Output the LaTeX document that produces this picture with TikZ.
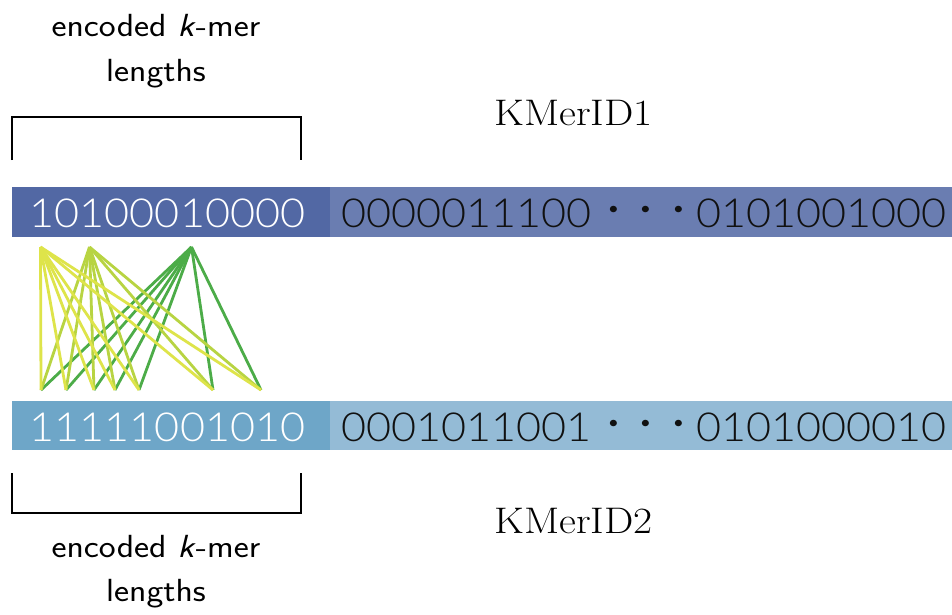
\documentclass[tikz,border=0pt]{standalone}
\usepackage{fontspec}
\newfontfamily\digitfont[FakeStretch=1.08]{Lato Light}
\definecolor{barTL}{RGB}{82,104,164}
\definecolor{barTR}{RGB}{106,125,177}
\definecolor{barBL}{RGB}{110,166,200}
\definecolor{barBR}{RGB}{148,187,214}
\definecolor{lnA}{RGB}{222,228,74}
\definecolor{lnB}{RGB}{184,212,66}
\definecolor{lnC}{RGB}{76,172,72}
\definecolor{txtdark}{RGB}{17,17,17}
\newcommand{\onedot}{\makebox[32.5pt]{\raisebox{-0.1ex}{\scalebox{1.6}{·}}}}
\newcommand{\mydots}{\hspace{5.5pt}\onedot\onedot\onedot\hspace{1.5pt}}
\begin{document}
\begin{tikzpicture}[x=1pt,y=-1pt,
  lbl/.style={inner sep=0pt, font=\sffamily\fontsize{32}{34}\selectfont},
  idlbl/.style={inner sep=0pt, anchor=base west, font=\rmfamily\fontsize{37}{40}\selectfont},
  dig/.style={inner sep=0pt, font=\digitfont\fontsize{40}{44}\selectfont},
  brk/.style={line width=2pt, black},
  link/.style={line width=2.8pt}]
\useasboundingbox (0,0) rectangle (952,615);
\fill[white] (0,0) rectangle (952,615);
% brackets
\draw[brk] (12,160) -- (12,117) -- (301,117) -- (301,160);
\draw[brk] (12,473) -- (12,513) -- (301,513) -- (301,473);
% labels
\node[lbl, anchor=base] (enc1) at (156,37) {\scalebox{1.12}[1]{encoded \textsl{k}-mer}};
\node[lbl, anchor=base] (len1) at (156,82) {\scalebox{1.12}[1]{lengths}};
\node[lbl, anchor=base] (enc2) at (156,557) {\scalebox{1.12}[1]{encoded \textsl{k}-mer}};
\node[lbl, anchor=base] (len2) at (156,601) {\scalebox{1.12}[1]{lengths}};
\node[idlbl] (id1) at (494,125) {\scalebox{1.12}[1]{KMerID1}};
\node[idlbl] (id2) at (494,533) {\scalebox{1.12}[1]{KMerID2}};
% bars
\fill[barTL] (12,187) rectangle (330,237);
\fill[barTR] (330,187) rectangle (952,237);
\fill[barBL] (12,401) rectangle (330,450);
\fill[barBR] (330,401) rectangle (952,450);
\node[dig, text=white, anchor=base] (k1) at (167.5,227) {10100010000};
\node[dig, text=txtdark, anchor=base west] (r1) at (341,227) {0000011100\mydots0101001000};
\node[dig, text=white, anchor=base] (k2) at (167.5,441) {11111001010};
\node[dig, text=txtdark, anchor=base west] (r2) at (341,441) {0001011001\mydots0101000010};
% link endpoints
\coordinate (t1) at (40.5,247);
\coordinate (t2) at (89.5,247);
\coordinate (t3) at (191.5,247);
\coordinate (b1) at (41,390);
\coordinate (b2) at (66,390);
\coordinate (b3) at (94,390);
\coordinate (b4) at (115,390);
\coordinate (b5) at (139,390);
\coordinate (b6) at (213,390);
\coordinate (b7) at (261,390);
\foreach \b in {b1,b2,b3,b4,b5,b6,b7} \draw[link, lnC] (t3) -- (\b);
\foreach \b in {b1,b2,b3,b4,b5,b6,b7} \draw[link, lnB] (t2) -- (\b);
\foreach \b in {b1,b2,b3,b4,b5,b6,b7} \draw[link, lnA] (t1) -- (\b);
\end{tikzpicture}
\end{document}
